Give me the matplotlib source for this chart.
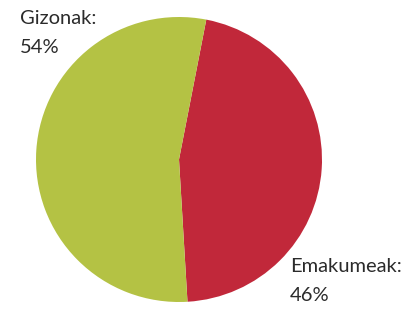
import matplotlib
matplotlib.use("Agg")
import matplotlib.pyplot as plt

labels = ["Emakumeak", "Gizonak"]
values = [46, 54]
colors = ["#c1283a", "#b4c244"]

fig = plt.figure(figsize=(4.03, 3.10), dpi=100)
ax = fig.add_axes([36/403, 8/310, 286/403, 285/310])
ax.pie(values, colors=colors, startangle=79, counterclock=False,
       wedgeprops=dict(linewidth=0))
ax.set_xlim(-1, 1)
ax.set_ylim(-1, 1)
ax.set_aspect('auto')
ax.axis('off')

fam = ["Lato", "DejaVu Sans"]
fig.text(20/403, 1 - 10/310, f"{labels[1]}:\n{values[1]}%", ha='left', va='top',
         fontsize=14.5, family=fam, color='#2b2b2b', linespacing=1.85)
fig.text(290/403, 1 - 258/310, f"{labels[0]}:\n{values[0]}%", ha='left', va='top',
         fontsize=14.5, family=fam, color='#2b2b2b', linespacing=1.85)

fig.savefig("out.png", dpi=100)
